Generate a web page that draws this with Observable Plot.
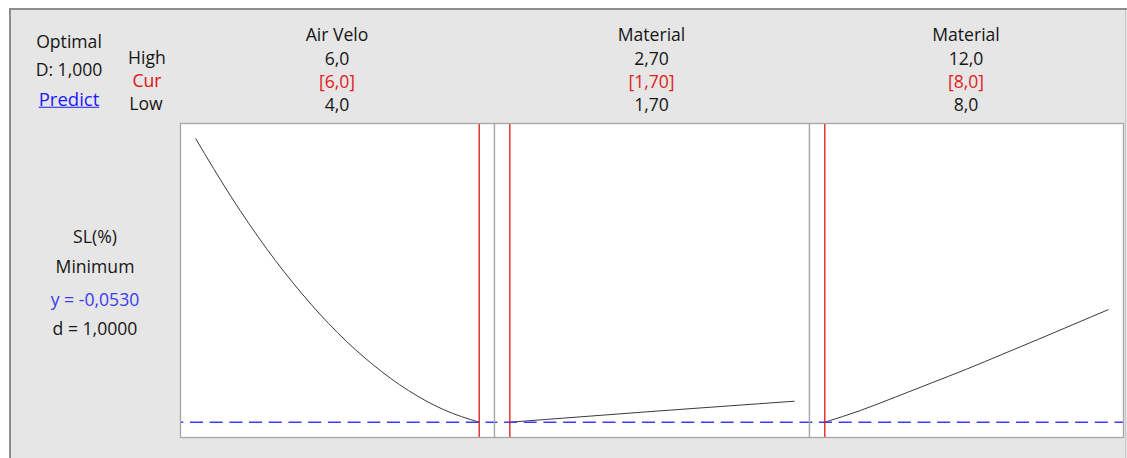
<!DOCTYPE html>
<html><head><meta charset="utf-8">
<script src="https://cdn.jsdelivr.net/npm/d3@7"></script>
<script src="https://cdn.jsdelivr.net/npm/@observablehq/plot@0.6"></script>
<style>
html,body{margin:0;padding:0;background:#fff;}
#root{position:relative;width:1127px;height:458px;overflow:hidden;font-family:"Open Sans","Noto Sans",sans-serif;font-size:17.6px;color:#161616;}
#bg{position:absolute;left:9px;top:8px;right:0;bottom:0;background:#e6e6e6;border-left:2px solid #8e8e8e;border-top:2px solid #8e8e8e;}
#rb{position:absolute;left:1125px;top:10px;width:1px;bottom:0;background:#c8c8c8;}
.t{position:absolute;transform:translate(-50%,-50%);white-space:nowrap;line-height:1;}
.panel{position:absolute;}
</style></head><body><div id="root"><div id="bg"></div><div id="rb"></div></div>
<script>
// ---- factor header data ----
const factorNames = ["Air Velo", "Material", "Material"];
const highLabels = ["6,0", "2,70", "12,0"];
const curLabels = ["[6,0]", "[1,70]", "[8,0]"];
const lowLabels = ["4,0", "1,70", "8,0"];
const lowValues = [4.0, 1.70, 8.0];
const highValues = [6.0, 2.70, 12.0];
const curValues = [6.0, 1.70, 8.0];

// ---- response curves (SL %) ----
const airVeloX = [4.00, 4.25, 4.50, 4.75, 5.00, 5.25, 5.50, 5.75, 6.00];
const airVeloY = [0.947, 0.742, 0.559, 0.400, 0.263, 0.150, 0.059, -0.009, -0.053];
const material1X = [1.70, 1.95, 2.20, 2.45, 2.70];
const material1Y = [-0.053, -0.034, -0.015, 0.003, 0.021];
const material2X = [8.0, 8.5, 9.0, 9.5, 10.0, 10.5, 11.0, 11.5, 12.0];
const material2Y = [-0.053, -0.012, 0.036, 0.085, 0.134, 0.186, 0.238, 0.291, 0.344];

const yOptimal = -0.0530;

// ---- left labels ----
const optimalLabels = ["Optimal", "D: 1,000", "Predict"];
const rowLabels = ["High", "Cur", "Low"];
const responseLabels = ["SL(%)", "Minimum", "y = -0,0530", "d = 1,0000"];

// ---- layout ----
const panelLeft = [180, 494, 809];
const panelRight = [494, 809, 1123];
const frameTop = 123, frameBottom = 437;
const pad = 0.054;

const root = document.getElementById("root");
function addText(txt, x, y, style) {
  const d = document.createElement("div");
  d.className = "t";
  d.textContent = txt;
  d.style.left = x + "px";
  d.style.top = y + "px";
  Object.assign(d.style, style || {});
  root.appendChild(d);
}

// Left block
addText(optimalLabels[0], 69, 42);
addText(optimalLabels[1], 69, 70);
addText(optimalLabels[2], 69, 99, {color: "#1a1aff", textDecoration: "underline", fontSize: "18.5px"});
addText(rowLabels[0], 147, 58);
addText(rowLabels[1], 147, 81, {color: "#e01010"});
addText(rowLabels[2], 146, 104);
addText(responseLabels[0], 95, 237);
addText(responseLabels[1], 95, 267);
addText(responseLabels[2], 95, 300, {color: "#3a3aee"});
addText(responseLabels[3], 95, 329);

const series = [
  airVeloX.map((x, i) => ({x, y: airVeloY[i]})),
  material1X.map((x, i) => ({x, y: material1Y[i]})),
  material2X.map((x, i) => ({x, y: material2Y[i]}))
];
const allY = [...airVeloY, ...material1Y, ...material2Y];
const yMin = d3.min(allY), yMax = d3.max(allY), yR = yMax - yMin;
const yDomain = [yMin - pad * yR, yMax + pad * yR];

for (let i = 0; i < 3; i++) {
  const cx = (panelLeft[i] + panelRight[i]) / 2;
  addText(factorNames[i], cx, 35);
  addText(highLabels[i], cx, 59);
  addText(curLabels[i], cx, 82, {color: "#e02020"});
  addText(lowLabels[i], cx, 105);

  const r = highValues[i] - lowValues[i];
  const w = panelRight[i] - panelLeft[i] + 2;
  const h = frameBottom - frameTop + 2;
  const svg = Plot.plot({
    width: w, height: h,
    marginLeft: 1, marginRight: 1, marginTop: 1, marginBottom: 1,
    style: {background: "transparent", overflow: "visible"},
    x: {domain: [lowValues[i] - pad * r, highValues[i] + pad * r], axis: null},
    y: {domain: yDomain, axis: null},
    marks: [
      Plot.frame({fill: "white", stroke: "none"}),
      Plot.line(series[i], {x: "x", y: "y", stroke: "#3a3a3a", strokeWidth: 1, curve: "monotone-x"}),
      Plot.ruleY([yOptimal], {stroke: "#3c3cff", strokeWidth: 1.5, strokeDasharray: "13,6.7", strokeDashoffset: 9.7}),
      Plot.ruleX([curValues[i]], {stroke: "#e01414", strokeWidth: 1.3}),
      Plot.frame({stroke: "#a6a6a6", strokeWidth: 1.3})
    ]
  });
  svg.classList.add("panel");
  svg.style.left = (panelLeft[i] - 1) + "px";
  svg.style.top = (frameTop - 1) + "px";
  svg.style.position = "absolute";
  root.appendChild(svg);
}
</script>
</body></html>
